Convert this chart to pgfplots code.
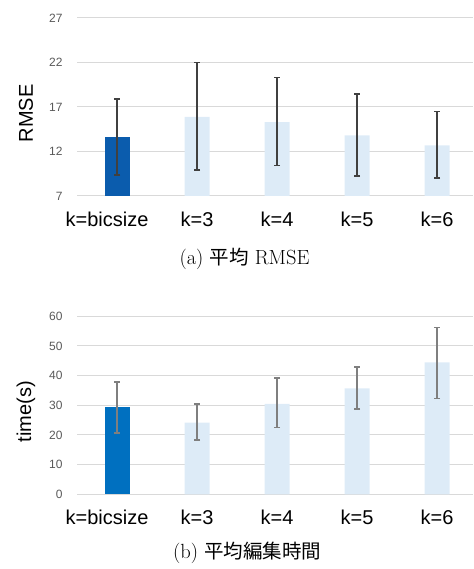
\documentclass[border=0pt]{standalone}
\usepackage{fontspec}
\setsansfont{Liberation Sans}
\newfontfamily\cjk{Noto Sans CJK JP}
\usepackage{pgfplots}
\pgfplotsset{compat=1.18}
\definecolor{darkA}{HTML}{0B5CAD}
\definecolor{darkB}{HTML}{0070C0}
\definecolor{lightbar}{HTML}{DDEBF7}
\definecolor{gridc}{HTML}{D9D9D9}
\definecolor{errcA}{HTML}{404040}
\definecolor{errcB}{HTML}{7F7F7F}
\definecolor{tickc}{HTML}{595959}
\pgfplotsset{
  mybars/.style={
    scale only axis, width=396pt, height=178pt,
    xmin=-0.5, xmax=4.45,
    axis line style={draw=none},
    major tick length=0pt,
    ymajorgrids, grid style={gridc, line width=1pt},
    xtick={0,1,2,3,4},
    xticklabels={{\hspace*{-20pt}k=bicsize},{k=3},{k=4},{k=5},{k=6}},
    xticklabel style={font=\sffamily\fontsize{20}{20}\selectfont, anchor=north, yshift=-12pt},
    yticklabel style={font=\sffamily\fontsize{12}{12}\selectfont, text=tickc, anchor=east, xshift=-11pt},
    /pgf/number format/assume math mode=true,
    ylabel style={font=\sffamily\fontsize{20}{20}\selectfont, at={(axis description cs:-0.1288,0.465)}, anchor=center},
    ybar, bar width=25pt,
    clip=false,
  },
  myerrA/.style={error bars/.cd, y dir=both, y explicit,
    error bar style={color=errcA, line width=1.5pt},
    error mark options={color=errcA, rotate=90, mark size=3pt, line width=1.5pt}},
  myerrB/.style={error bars/.cd, y dir=both, y explicit,
    error bar style={color=errcB, line width=1.5pt},
    error mark options={color=errcB, rotate=90, mark size=3pt, line width=1.5pt}},
}
\begin{document}
\begin{tikzpicture}
\useasboundingbox (-77pt,196pt) rectangle (396pt,-373pt);
\begin{axis}[mybars, ymin=7, ymax=27, ytick={7,12,17,22,27}, ylabel={RMSE}]
\addplot[fill=darkA, draw=none, bar shift=0pt, myerrA] table[x=x, y=y, y error plus=ep, y error minus=em] {
x y ep em
0 13.6 4.3 4.25
};
\addplot[fill=lightbar, draw=none, bar shift=0pt, myerrA] table[x=x, y=y, y error plus=ep, y error minus=em] {
x y ep em
1 15.9 6.1 6.0
2 15.3 5.0 4.9
3 13.8 4.65 4.55
4 12.7 3.8 3.65
};
\node[font=\fontsize{20.5}{22}\selectfont] at (rel axis cs:0.423,0) [yshift=-63pt] {(a) {\cjk\fontsize{19.5}{20}\selectfont 平均} RMSE};
\end{axis}
\begin{axis}[mybars, at={(0,-298.3pt)}, ymin=0, ymax=60, ytick={0,10,20,30,40,50,60}, ylabel={time(s)}]
\addplot[fill=darkB, draw=none, bar shift=0pt, myerrB] table[x=x, y=y, y error plus=ep, y error minus=em] {
x y ep em
0 29.3 8.6 8.6
};
\addplot[fill=lightbar, draw=none, bar shift=0pt, myerrB] table[x=x, y=y, y error plus=ep, y error minus=em] {
x y ep em
1 24.2 6.2 5.9
2 30.5 8.7 7.9
3 35.7 7.2 6.9
4 44.5 11.8 12.2
};
\node[font=\fontsize{20.5}{22}\selectfont] at (rel axis cs:0.43,0) [yshift=-59pt] {(b) {\cjk\fontsize{19.5}{20}\selectfont 平均編集時間}};
\end{axis}
\end{tikzpicture}
\end{document}
